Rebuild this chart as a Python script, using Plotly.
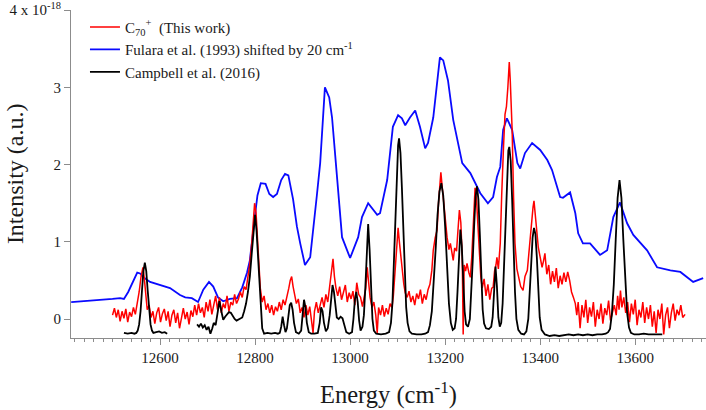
import plotly.graph_objects as go

# ---------------- data ----------------
red_energy = [
    12500, 12504, 12508, 12512, 12516, 12520, 12524, 12528, 12532, 12536, 12540, 12544, 12548, 12552, 12556, 12560,
    12564, 12567, 12570, 12573, 12577, 12581, 12585, 12589, 12593, 12597, 12601, 12605, 12609, 12613, 12617, 12621,
    12625, 12629, 12633, 12637, 12641, 12645, 12649, 12653, 12657, 12661, 12665, 12669, 12673, 12677, 12681, 12685,
    12689, 12693, 12697, 12701, 12705, 12709, 12713, 12717, 12721, 12725, 12729, 12733, 12737, 12741, 12745, 12749,
    12753, 12757, 12761, 12765, 12769, 12773, 12777, 12781, 12785, 12789, 12793, 12796, 12799, 12802, 12805, 12808,
    12811, 12815, 12819, 12823, 12827, 12831, 12835, 12839, 12843, 12847, 12851, 12855, 12859, 12863, 12867, 12871,
    12874, 12877, 12880, 12883, 12887, 12891, 12895, 12899, 12903, 12907, 12911, 12915, 12919, 12922, 12925, 12929,
    12933, 12937, 12941, 12945, 12949, 12953, 12957, 12961, 12964, 12967, 12970, 12974, 12978, 12982, 12986, 12990,
    12994, 12998, 13002, 13006, 13010, 13014, 13018, 13022, 13026, 13030, 13033, 13036, 13039, 13042, 13046, 13050,
    13054, 13057, 13060, 13064, 13068, 13072, 13076, 13080, 13084, 13088, 13091, 13095, 13098, 13101, 13104, 13107,
    13110, 13113, 13116, 13120, 13124, 13128, 13132, 13136, 13140, 13144, 13148, 13152, 13156, 13160, 13164, 13168,
    13172, 13175, 13179, 13183, 13186, 13189, 13191, 13194, 13197, 13200, 13204, 13208, 13211, 13214, 13217, 13220,
    13224, 13227, 13230, 13233, 13236, 13238, 13240, 13243, 13246, 13250, 13253, 13256, 13259, 13261, 13263, 13266,
    13269, 13272, 13275, 13278, 13282, 13286, 13290, 13294, 13298, 13301, 13304, 13307, 13309, 13312, 13316, 13319,
    13321, 13323, 13326, 13329, 13332, 13335, 13337, 13339, 13341, 13344, 13347, 13351, 13355, 13359, 13364, 13368,
    13373, 13376, 13379, 13382, 13385, 13387, 13390, 13393, 13396, 13400, 13404, 13407, 13410, 13414, 13418, 13422,
    13426, 13430, 13434, 13438, 13442, 13446, 13450, 13454, 13458, 13462, 13466, 13470, 13474, 13477, 13480, 13484,
    13488, 13492, 13496, 13500, 13504, 13508, 13512, 13516, 13520, 13524, 13528, 13532, 13536, 13540, 13544, 13548,
    13552, 13556, 13560, 13563, 13566, 13569, 13572, 13576, 13580, 13584, 13588, 13592, 13596, 13600, 13604, 13608,
    13612, 13616, 13620, 13624, 13628, 13632, 13636, 13640, 13644, 13648, 13652, 13656, 13660, 13664, 13668, 13672,
    13676, 13680, 13684, 13688, 13692, 13696, 13700, 13705,
]
red_intensity = [
    0.05, 0.14, 0.02, 0.12, -0.03, 0.10, 0.01, 0.13, -0.04, 0.09, 0.03, 0.15, 0.06, 0.20, 0.35, 0.55,
    0.67, 0.52, 0.30, 0.12, 0.18, 0.02, 0.10, -0.06, 0.08, 0.15, -0.04, 0.07, 0.13, -0.02, 0.10, -0.10,
    0.05, 0.12, -0.05, 0.08, -0.12, 0.02, 0.14, 0.00, 0.09, -0.07, 0.11, 0.03, 0.18, 0.05, 0.20, 0.08,
    0.15, 0.02, 0.22, 0.10, 0.25, 0.06, 0.18, 0.30, 0.12, 0.28, 0.08, 0.20, 0.14, 0.30, 0.10, 0.22,
    0.18, 0.32, 0.20, 0.26, 0.35, 0.28, 0.42, 0.38, 0.55, 0.72, 0.98, 1.28, 1.50, 1.38, 1.00, 0.62,
    0.40, 0.22, 0.30, 0.12, 0.20, 0.08, 0.18, 0.05, 0.16, 0.10, 0.22, 0.12, 0.25, 0.18, 0.28, 0.40,
    0.50, 0.55, 0.42, 0.34, 0.20, 0.26, 0.08, 0.15, 0.02, 0.18, 0.05, 0.16, -0.05, -0.18, 0.10, 0.22,
    0.08, 0.18, 0.28, 0.15, 0.32, 0.22, 0.45, 0.62, 0.78, 0.55, 0.41, 0.30, 0.42, 0.25, 0.36, 0.44,
    0.22, 0.34, 0.26, 0.36, 0.18, 0.47, 0.32, 0.28, 0.16, 0.30, 0.40, 0.67, 0.50, 0.28, 0.15, 0.22,
    0.05, -0.18, 0.15, 0.05, 0.18, 0.03, 0.14, 0.06, 0.20, 0.15, 0.30, 0.63, 0.95, 1.18, 0.98, 0.80,
    0.60, 0.45, 0.34, 0.28, 0.36, 0.22, 0.30, 0.18, 0.33, 0.26, 0.38, 0.20, 0.32, 0.25, 0.38, 0.45,
    0.63, 0.89, 1.05, 1.15, 1.50, 1.80, 1.90, 1.70, 1.45, 1.32, 1.06, 0.90, 0.98, 0.85, 0.76, 0.92,
    0.88, 1.15, 1.41, 1.25, 0.80, -0.20, 0.70, 0.62, 0.72, 0.60, 0.54, 0.80, 1.15, 1.45, 1.70, 1.55,
    1.20, 0.80, 0.55, 0.40, 0.52, 0.30, 0.45, 0.25, 0.40, 0.41, 0.62, 0.70, 0.80, 0.65, 0.98, 1.60,
    2.00, 2.25, 2.65, 2.75, 3.00, 3.33, 3.10, 2.85, 2.45, 1.58, 0.98, 0.65, 0.55, 0.42, 0.37, 0.55,
    0.63, 0.85, 1.02, 1.20, 1.45, 1.53, 1.30, 1.10, 0.93, 0.80, 0.67, 0.75, 0.85, 0.58, 0.70, 0.45,
    0.62, 0.48, 0.66, 0.40, 0.56, 0.45, 0.60, 0.48, 0.61, 0.50, 0.35, 0.28, 0.20, 0.05, 0.22, -0.12,
    0.18, 0.02, 0.25, -0.05, 0.15, 0.03, 0.22, -0.10, 0.12, 0.00, 0.20, -0.06, 0.14, 0.05, 0.24, -0.02,
    0.10, 0.18, 0.05, 0.30, 0.12, 0.37, 0.15, 0.28, 0.08, 0.22, -0.04, 0.20, 0.06, 0.25, -0.08, 0.12,
    0.02, 0.22, -0.05, 0.15, 0.00, 0.18, -0.10, 0.10, -0.18, 0.12, 0.00, 0.20, -0.20, 0.05, 0.15, -0.12,
    0.08, 0.20, -0.02, 0.12, 0.05, 0.18, 0.02, 0.06,
]

blue_energy = [
    12413, 12440, 12474, 12500, 12516, 12524, 12533, 12545, 12552, 12558, 12565, 12579, 12600, 12621, 12642, 12653,
    12667, 12680, 12691, 12703, 12712, 12722, 12733, 12747, 12762, 12773, 12783, 12789, 12798, 12805, 12812, 12822,
    12830, 12838, 12846, 12855, 12863, 12870, 12880, 12888, 12895, 12905, 12916, 12922, 12930, 12937, 12947, 12956,
    12962, 12973, 12983, 13000, 13017, 13025, 13038, 13057, 13063, 13078, 13090, 13101, 13109, 13116, 13126, 13137,
    13147, 13158, 13164, 13175, 13189, 13196, 13206, 13217, 13236, 13253, 13274, 13290, 13301, 13309, 13316, 13322,
    13330, 13341, 13352, 13358, 13368, 13383, 13400, 13415, 13425, 13442, 13448, 13463, 13474, 13480, 13490, 13505,
    13526, 13541, 13554, 13568, 13583, 13596, 13625, 13646, 13674, 13695, 13722, 13743,
]
blue_intensity = [
    0.22, 0.23, 0.25, 0.26, 0.27, 0.26, 0.35, 0.52, 0.60, 0.59, 0.54, 0.48, 0.44, 0.40, 0.31, 0.28,
    0.27, 0.22, 0.38, 0.48, 0.42, 0.28, 0.23, 0.26, 0.27, 0.41, 0.60, 0.76, 1.25, 1.60, 1.76, 1.75,
    1.62, 1.58, 1.62, 1.80, 1.88, 1.86, 1.55, 1.20, 0.98, 0.70, 0.80, 1.11, 1.60, 2.02, 3.00, 2.87,
    2.61, 1.80, 1.06, 0.79, 1.06, 1.32, 1.50, 1.35, 1.37, 1.80, 2.49, 2.64, 2.60, 2.51, 2.61, 2.70,
    2.49, 2.21, 2.28, 2.61, 3.39, 3.35, 3.09, 2.58, 2.02, 1.89, 1.63, 1.50, 1.58, 1.84, 1.97, 2.45,
    2.60, 2.45, 2.02, 1.95, 2.15, 2.28, 2.19, 2.06, 1.93, 1.58, 1.57, 1.64, 1.37, 1.11, 0.98, 0.98,
    0.83, 0.89, 1.32, 1.51, 1.24, 1.09, 0.89, 0.67, 0.63, 0.61, 0.48, 0.53,
]

# None marks the gap in the Campbell et al. spectrum
black_energy = [
    12524, 12532, 12540, 12546, 12550, 12553, 12556, 12559, 12562, 12565, 12568, 12571, 12574, 12577, 12580, 12583,
    12586, 12592, 12598, 12604, 12610, 12615, None,
    12678, 12682, 12686, 12690, 12694, 12698, 12702, 12706, 12710, 12713, 12717, 12721, 12725, 12729, 12733, 12737,
    12741, 12745, 12749, 12753, 12757, 12761, 12765, 12769, 12773, 12777, 12781, 12785, 12789, 12793, 12797, 12800,
    12803, 12806, 12809, 12812, 12815, 12819, 12826, 12834, 12842, 12848, 12852, 12855, 12858, 12861, 12864, 12867,
    12870, 12873, 12876, 12879, 12882, 12886, 12892, 12897, 12900, 12903, 12906, 12909, 12913, 12918, 12925, 12932,
    12936, 12939, 12942, 12945, 12949, 12953, 12957, 12960, 12963, 12966, 12969, 12972, 12976, 12980, 12984, 12988,
    12992, 12998, 13004, 13007, 13010, 13013, 13016, 13019, 13022, 13026, 13029, 13032, 13035, 13038, 13041, 13044,
    13047, 13050, 13055, 13065, 13075, 13082, 13086, 13089, 13092, 13095, 13098, 13101, 13103, 13106, 13109, 13112,
    13115, 13118, 13121, 13125, 13130, 13140, 13150, 13158, 13164, 13168, 13172, 13176, 13180, 13184, 13188, 13192,
    13196, 13200, 13204, 13208, 13212, 13216, 13220, 13223, 13226, 13229, 13232, 13235, 13238, 13241, 13244, 13248,
    13252, 13255, 13258, 13261, 13264, 13267, 13270, 13273, 13276, 13279, 13282, 13286, 13292, 13297, 13300, 13303,
    13306, 13309, 13312, 13315, 13318, 13321, 13324, 13327, 13330, 13333, 13335, 13338, 13341, 13344, 13347, 13350,
    13354, 13360, 13366, 13371, 13375, 13378, 13381, 13384, 13387, 13390, 13393, 13396, 13399, 13403, 13410, 13420,
    13430, 13440, 13450, 13460, 13470, 13480, 13490, 13500, 13510, 13520, 13530, 13538, 13543, 13547, 13551, 13555,
    13559, 13563, 13567, 13571, 13575, 13579, 13583, 13587, 13591, 13598, 13608, 13618, 13628, 13638, 13648, 13657,
]
black_intensity = [
    -0.18, -0.19, -0.18, -0.19, -0.18, -0.15, -0.07, 0.10, 0.37, 0.62, 0.73, 0.62, 0.37, 0.10, -0.07, -0.15,
    -0.18, -0.17, -0.16, -0.18, -0.17, -0.19, None,
    -0.07, -0.10, -0.06, -0.11, -0.08, -0.14, -0.10, -0.19, -0.12, -0.05, -0.08, 0.05, 0.23, 0.10, -0.01, 0.03,
    0.06, 0.09, 0.08, 0.04, 0.00, -0.02, -0.01, 0.00, 0.02, 0.10, 0.20, 0.35, 0.55, 0.85, 1.15, 1.35,
    1.15, 0.80, 0.45, 0.10, -0.12, -0.19, -0.18, -0.19, -0.18, -0.19, -0.18, -0.10, 0.03, -0.08, -0.17, -0.12,
    0.05, 0.18, 0.21, 0.12, -0.05, -0.17, -0.19, -0.15, 0.05, 0.25, 0.15, -0.05, -0.17, -0.19, -0.19, -0.18,
    -0.05, 0.15, 0.10, -0.05, -0.16, -0.12, 0.05, 0.30, 0.44, 0.35, 0.15, 0.02, 0.00, 0.03, 0.01, -0.08,
    -0.17, -0.19, -0.17, 0.00, 0.25, 0.35, 0.22, -0.02, -0.15, -0.10, 0.05, 0.40, 0.85, 1.23, 0.90, 0.40,
    0.00, -0.15, -0.19, -0.20, -0.19, -0.17, -0.05, 0.20, 0.70, 1.30, 1.90, 2.25, 2.34, 2.15, 1.70, 1.10,
    0.55, 0.15, -0.05, -0.16, -0.19, -0.20, -0.20, -0.19, -0.17, -0.08, 0.10, 0.45, 0.90, 1.35, 1.65, 1.76,
    1.60, 1.20, 0.65, 0.20, -0.05, -0.14, -0.12, 0.00, 0.35, 0.85, 1.16, 0.95, 0.50, 0.10, -0.07, -0.10,
    0.00, 0.30, 0.75, 1.20, 1.58, 1.72, 1.55, 1.10, 0.55, 0.12, -0.06, -0.12, -0.13, -0.10, 0.02, 0.40,
    0.68, 0.42, 0.02, -0.10, -0.05, 0.20, 0.70, 1.30, 1.85, 2.18, 2.23, 2.05, 1.55, 0.90, 0.35, 0.00,
    -0.14, -0.19, -0.20, -0.16, 0.00, 0.35, 0.75, 1.05, 1.18, 1.10, 0.80, 0.35, 0.02, -0.14, -0.20, -0.22,
    -0.21, -0.22, -0.21, -0.20, -0.21, -0.20, -0.21, -0.20, -0.21, -0.20, -0.20, -0.19, -0.17, -0.13, 0.07, 0.45,
    1.03, 1.57, 1.80, 1.57, 1.03, 0.45, 0.08, -0.11, -0.18, -0.20, -0.20, -0.19, -0.20, -0.20, -0.20, -0.20,
]

x_tick_values = [12600, 12800, 13000, 13200, 13400, 13600]
x_tick_labels = ["12600", "12800", "13000", "13200", "13400", "13600"]
y_tick_values = [0, 1, 2, 3, 4]
y_tick_labels = ["0", "1", "2", "3", "4 x 10<sup>-18</sup>"]

series_names = [
    "C<sub>70</sub><sup>+</sup>  (This work)",
    "Fulara et al. (1993) shifted by 20 cm<sup>-1</sup>",
    "Campbell et al. (2016)",
]

# ---------------- figure ----------------
FONT = "Times New Roman"
TEXT = "#1a1a1a"
AXIS_GRAY = "#8c8c8c"

fig = go.Figure()
fig.add_trace(go.Scatter(x=blue_energy, y=blue_intensity, mode="lines", name=series_names[1],
                         line=dict(color="#0a0aff", width=1.8), legendrank=2))
fig.add_trace(go.Scatter(x=red_energy, y=red_intensity, mode="lines", name=series_names[0],
                         line=dict(color="#ff0000", width=1.5), legendrank=1))
fig.add_trace(go.Scatter(x=black_energy, y=black_intensity, mode="lines", name=series_names[2],
                         line=dict(color="#000000", width=1.8), connectgaps=False, legendrank=3))

fig.update_layout(
    width=706, height=410,
    margin=dict(l=71, r=0, t=10, b=72, pad=0),
    paper_bgcolor="white", plot_bgcolor="white",
    font=dict(family=FONT, size=15, color=TEXT),
    showlegend=True,
    legend=dict(x=0.022, y=0.998, xanchor="left", yanchor="top", bgcolor="rgba(0,0,0,0)",
                font=dict(family=FONT, size=15, color=TEXT), traceorder="normal",
                tracegroupgap=0),
    xaxis=dict(range=[12412.6, 13749], tickvals=x_tick_values, ticktext=x_tick_labels,
               ticks="outside", ticklen=6, tickwidth=1, tickcolor=AXIS_GRAY,
               showline=True, linecolor=AXIS_GRAY, linewidth=1, showgrid=False, zeroline=False,
               minor=dict(dtick=20, tick0=12400, ticks="outside", ticklen=3, tickcolor=AXIS_GRAY, showgrid=False),
               tickfont=dict(family=FONT, size=15, color=TEXT), ticklabeloverflow="allow"),
    yaxis=dict(range=[-0.246, 4.003], tickvals=y_tick_values, ticktext=y_tick_labels,
               ticks="outside", ticklen=6, tickwidth=1, tickcolor=AXIS_GRAY,
               showline=True, linecolor=AXIS_GRAY, linewidth=1, showgrid=False, zeroline=False,
               tickfont=dict(family=FONT, size=15, color=TEXT), ticklabeloverflow="allow"),
    annotations=[
        dict(text="Energy (cm<sup>-1</sup>)", xref="paper", yref="paper", x=0.5, y=-0.17,
             xanchor="center", yanchor="middle", showarrow=False,
             font=dict(family=FONT, size=24.5, color=TEXT)),
        dict(text="Intensity (a.u.)", xref="paper", yref="paper", x=-0.088, y=0.5,
             xanchor="center", yanchor="middle", textangle=-90, showarrow=False,
             font=dict(family=FONT, size=24, color=TEXT)),
    ],
)

fig.write_html("out.html")
